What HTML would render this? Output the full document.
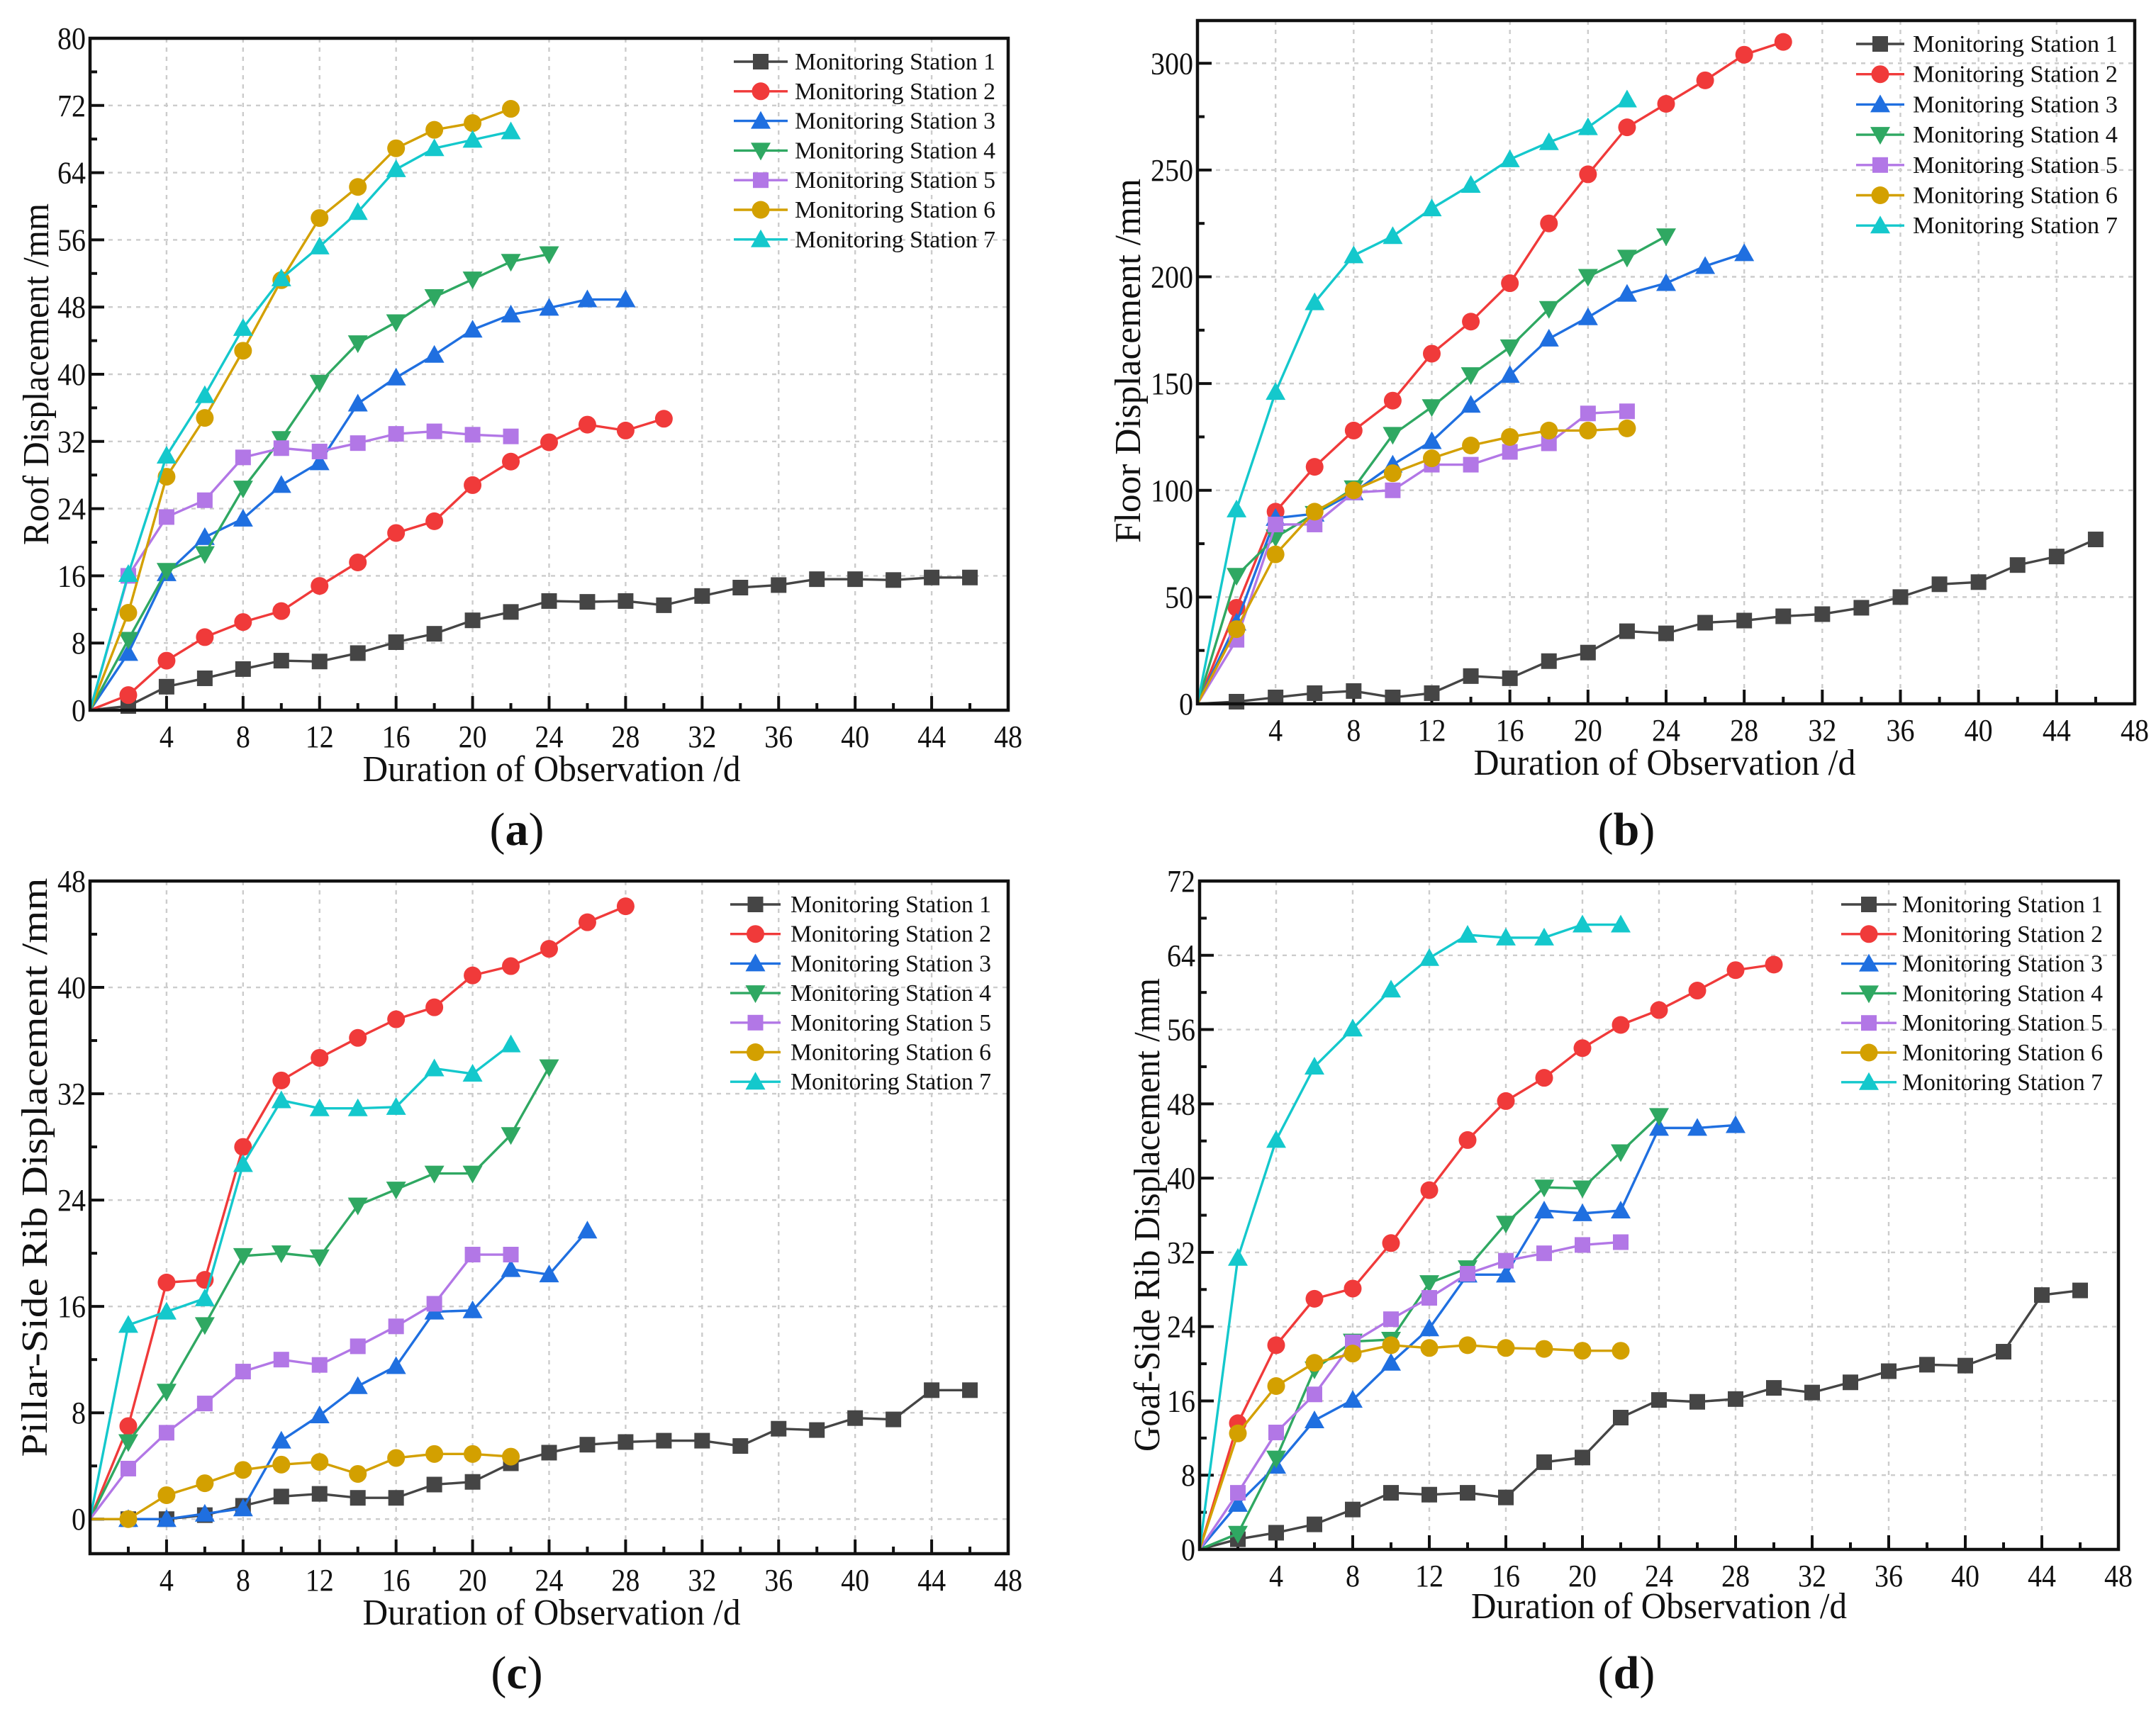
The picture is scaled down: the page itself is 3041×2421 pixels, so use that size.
<!DOCTYPE html>
<html><head><meta charset="utf-8"><style>
html,body{margin:0;padding:0;background:#fff;}
svg{display:block;}
svg text{font-family:"Liberation Serif","DejaVu Serif",serif;fill:#111;}
</style></head><body>
<svg id="root" xmlns="http://www.w3.org/2000/svg" width="3041" height="2421" viewBox="0 0 3041 2421" font-family="Liberation Serif, serif">
<rect width="3041" height="2421" fill="#fff"/>
</svg>
<script>
// ---- shared x data ----
const days = [0,2,4,6,8,10,12,14,16,18,20,22,24,26,28,30,32,34,36,38,40,42,44,46];
const stationNames = ["Monitoring Station 1","Monitoring Station 2","Monitoring Station 3","Monitoring Station 4","Monitoring Station 5","Monitoring Station 6","Monitoring Station 7"];
const xTickLabels = [4,8,12,16,20,24,28,32,36,40,44,48];

// ---- panel (a) roof ----
const aS1 = [0,0.5,2.8,3.8,4.9,5.9,5.8,6.8,8.1,9.1,10.7,11.7,13.0,12.9,13.0,12.5,13.6,14.6,14.9,15.6,15.6,15.5,15.8,15.8];
const aS2 = [0,1.8,5.9,8.7,10.5,11.8,14.8,17.6,21.1,22.5,26.8,29.6,31.9,34.0,33.3,34.7];
const aS3 = [0,6.8,16.3,20.6,22.8,26.8,29.5,36.5,39.6,42.3,45.3,47.1,47.9,48.9,48.9];
const aS4 = [0,8.4,16.6,18.6,26.4,32.3,39.0,43.7,46.2,49.2,51.3,53.4,54.3];
const aS5 = [0,16.0,23.0,25.0,30.1,31.2,30.8,31.8,32.9,33.2,32.8,32.6];
const aS6 = [0,11.6,27.8,34.8,42.8,51.2,58.6,62.3,66.9,69.1,69.9,71.6];
const aS7 = [0,16.2,30.3,37.5,45.5,51.4,55.2,59.3,64.4,66.9,67.9,68.9];
const aYTicks = [0,8,16,24,32,40,48,56,64,72,80];

// ---- panel (b) floor ----
const bS1 = [0,1,3,5,6,3,5,13,12,20,24,34,33,38,39,41,42,45,50,56,57,65,69,77];
const bS2 = [0,45,90,111,128,142,164,179,197,225,248,270,281,292,304,310];
const bS3 = [0,38,87,89,99,112,123,140,154,171,181,192,197,205,211];
const bS4 = [0,60,78,89,101,126,139,154,167,185,200,209,219];
const bS5 = [0,30,84,84,99,100,112,112,118,122,136,137];
const bS6 = [0,35,70,90,100,108,115,121,125,128,128,129];
const bS7 = [0,91,146,188,210,219,232,243,255,263,270,283];
const bYTicks = [0,50,100,150,200,250,300];

// ---- panel (c) pillar-side rib ----
const cS1 = [0,0,0,0.3,1.0,1.7,1.9,1.6,1.6,2.6,2.8,4.2,5.0,5.6,5.8,5.9,5.9,5.5,6.8,6.7,7.6,7.5,9.7,9.7];
const cS2 = [0,7.0,17.8,18.0,28.0,33.0,34.7,36.2,37.6,38.5,40.9,41.6,42.9,44.9,46.1];
const cS3 = [0,0,0,0.4,0.8,5.9,7.8,10.0,11.5,15.6,15.7,18.8,18.4,21.7];
const cS4 = [0,5.8,9.6,14.6,19.8,20.0,19.7,23.6,24.8,26.0,26.0,28.9,34.0];
const cS5 = [0,3.8,6.5,8.7,11.1,12.0,11.6,13.0,14.5,16.2,19.9,19.9];
const cS6 = [0,0,1.8,2.7,3.7,4.1,4.3,3.4,4.6,4.9,4.9,4.7];
const cS7 = [0,14.6,15.6,16.6,26.7,31.5,30.9,30.9,31.0,33.9,33.5,35.7];
const cYTicks = [0,8,16,24,32,40,48];

// ---- panel (d) goaf-side rib ----
const dS1 = [0,1.1,1.8,2.7,4.3,6.1,5.9,6.1,5.6,9.4,9.9,14.2,16.1,15.9,16.2,17.4,16.9,18.0,19.2,19.9,19.8,21.3,27.4,27.9];
const dS2 = [0,13.6,22.0,27.0,28.1,33.0,38.7,44.1,48.3,50.8,54.0,56.5,58.1,60.2,62.4,63.0];
const dS3 = [0,4.9,9.0,13.9,16.1,20.1,23.8,29.6,29.6,36.5,36.2,36.5,45.4,45.4,45.7];
const dS4 = [0,1.7,9.8,19.4,22.4,22.6,28.7,30.3,35.1,39.0,38.9,42.8,46.7];
const dS5 = [0,6.1,12.6,16.7,22.3,24.8,27.1,29.7,31.1,31.9,32.8,33.1];
const dS6 = [0,12.5,17.6,20.1,21.1,22.0,21.7,22.0,21.7,21.6,21.4,21.4];
const dS7 = [0,31.4,44.1,52.0,56.1,60.3,63.7,66.2,65.9,65.9,67.3,67.3];
const dYTicks = [0,8,16,24,32,40,48,56,64,72];

const colors = ["#454545","#f03a3a","#1f6fe0","#2fa862","#b277e6","#d3a000","#14c8cc"];
const shapes = ["square","circle","up","down","square","circle","up"];
const FONT = '"Liberation Serif", "DejaVu Serif", serif';

const NS = "http://www.w3.org/2000/svg";
const root = document.getElementById("root");
function mk(tag, attrs, parent){const e=document.createElementNS(NS,tag);for(const k in attrs)e.setAttribute(k,attrs[k]);if(tag==="text")e.style.fontFamily=FONT;(parent||root).appendChild(e);return e;}

function marker(g, shape, x, y, col){
  let m;
  if(shape==="square") m=mk("rect",{x:x-11,y:y-11,width:22,height:22,fill:col},g);
  else if(shape==="circle") m=mk("circle",{cx:x,cy:y,r:12.5,fill:col},g);
  else if(shape==="up") m=mk("polygon",{points:`${x},${y-14} ${x+14},${y+11} ${x-14},${y+11}`,fill:col},g);
  else m=mk("polygon",{points:`${x},${y+14} ${x+14},${y-11} ${x-14},${y-11}`,fill:col},g);
  return m;
}

function panel(cfg, series){
  const g = mk("g",{});
  
  
  const xs = v => cfg.L + (v/48)*(cfg.R-cfg.L);
  const ys = v => cfg.B - (v-cfg.ymin)/(cfg.ymax-cfg.ymin)*(cfg.B-cfg.T);
  const grid = mk("g",{stroke:"#cccccc","stroke-width":2.4,"stroke-dasharray":"6 7",fill:"none"},g);
  
  
  xTickLabels.forEach(v=>{ if(v<48) mk("line",{x1:xs(v),x2:xs(v),y1:cfg.T,y2:cfg.B},grid);});
  cfg.yTicks.forEach(v=>{ if(v>0 || cfg.ymin<0){ const y=ys(v); if(y>cfg.T+2) mk("line",{x1:cfg.L,x2:cfg.R,y1:y,y2:y},grid);} });
  const tk = mk("g",{stroke:"#111","stroke-width":4},g);
  for(let v=2; v<48; v+=2){ const x=xs(v); const len=(v%4===0)?20:10; mk("line",{x1:x,x2:x,y1:cfg.B,y2:cfg.B-len},tk);}
  const st = cfg.yTicks[1]-cfg.yTicks[0];
  for(let v=0; v<=cfg.ymax+0.001; v+=st/2){ const y=ys(v); if(y<cfg.T+3) continue; const major=Math.abs((v/st)-Math.round(v/st))<1e-6; mk("line",{x1:cfg.L,x2:cfg.L+(major?20:10),y1:y,y2:y},tk);}
  xTickLabels.forEach(v=>{
    const t=mk("text",{x:xs(v),y:cfg.B+52,"font-size":44,"text-anchor":"middle",textLength:String(v).length*20,lengthAdjust:"spacingAndGlyphs"},g);
    t.textContent=v;
    
    
  });
  cfg.yTicks.forEach(v=>{
    const t=mk("text",{x:cfg.L-6,y:ys(v)+15,"font-size":44,"text-anchor":"end",textLength:String(v).length*20,lengthAdjust:"spacingAndGlyphs"},g);
    t.textContent=v;
    
    
  });
  series.forEach((vals,i)=>{
    const sg = mk("g",{},g);
    
    
    const pts = vals.map((v,j)=>xs(days[j])+","+ys(v)).join(" ");
    mk("polyline",{points:pts,fill:"none",stroke:colors[i],"stroke-width":3.4},sg);
    vals.forEach((v,j)=>{ if(j===0) return; const m=marker(sg,shapes[i],xs(days[j]),ys(v),colors[i]);
      
      
    });
  });
  const fr = mk("rect",{x:cfg.L,y:cfg.T,width:cfg.R-cfg.L,height:cfg.B-cfg.T,fill:"none",stroke:"#111","stroke-width":4.5},g);
  
  
  const lg = mk("g",{},g);
  
  
  stationNames.forEach((n,i)=>{
    const y = cfg.legY + i*cfg.legDY;
    const e = mk("g",{},lg);
    
    
    mk("line",{x1:cfg.legX1,x2:cfg.legX2,y1:y,y2:y,stroke:colors[i],"stroke-width":3.4},e);
    marker(e,shapes[i],(cfg.legX1+cfg.legX2)/2,y,colors[i]);
    const t=mk("text",{x:cfg.legTX,y:y+11,"font-size":34,textLength:cfg.legTW,lengthAdjust:"spacingAndGlyphs"},e);
    t.textContent=n;
  });
  const xt=mk("text",{x:cfg.xtX,y:cfg.B+cfg.xtDY,"font-size":52,"text-anchor":"middle",textLength:cfg.xtW,lengthAdjust:"spacingAndGlyphs"},g);
  xt.textContent="Duration of Observation /d";
  
  
  const yt=mk("text",{x:0,y:0,"font-size":52,"text-anchor":"middle",textLength:cfg.ytW,lengthAdjust:"spacingAndGlyphs",transform:`translate(${cfg.ytX},${cfg.ytY}) rotate(-90)`},g);
  yt.textContent=cfg.ytitle;
  
  
  const pl=mk("text",{x:cfg.plX,y:cfg.plY,"font-size":66,"text-anchor":"middle"},g);
  pl.innerHTML='(<tspan font-weight="bold">'+cfg.letter+'</tspan>)';
  
  
}

panel({name:"chart-roof-displacement",L:127,R:1422,T:54,B:1002,ymin:0,ymax:80,yTicks:aYTicks,
  legY:87,legDY:41.8,legX1:1035,legX2:1111,legTX:1121,legTW:283,
  xtX:778,xtDY:100,xtW:533,ytX:68,ytY:528,ytW:482,ytitle:"Roof Displacement /mm",plX:729,plY:1192,letter:"a"},
  [aS1,aS2,aS3,aS4,aS5,aS6,aS7]);
panel({name:"chart-floor-displacement",L:1689,R:3011,T:29,B:993,ymin:0,ymax:320,yTicks:bYTicks,
  legY:62,legDY:42.7,legX1:2618,legX2:2686,legTX:2698,legTW:289,
  xtX:2348,xtDY:100,xtW:539,ytX:1608,ytY:509,ytW:514,ytitle:"Floor  Displacement /mm",plX:2294,plY:1192,letter:"b"},
  [bS1,bS2,bS3,bS4,bS5,bS6,bS7]);
panel({name:"chart-pillar-side-rib-displacement",L:127,R:1422,T:1243,B:2192,ymin:-2.6,ymax:48,yTicks:cYTicks,
  legY:1276,legDY:41.7,legX1:1030,legX2:1101,legTX:1115,legTW:283,
  xtX:778,xtDY:100,xtW:533,ytX:66,ytY:1647,ytW:817,ytitle:"Pillar-Side Rib Displacement /mm",plX:729,plY:2382,letter:"c"},
  [cS1,cS2,cS3,cS4,cS5,cS6,cS7]);
panel({name:"chart-goaf-side-rib-displacement",L:1692,R:2988,T:1243,B:2186,ymin:0,ymax:72,yTicks:dYTicks,
  legY:1276,legDY:41.8,legX1:2597,legX2:2675,legTX:2683,legTW:283,
  xtX:2340,xtDY:97,xtW:530,ytX:1635,ytY:1714,ytW:668,ytitle:"Goaf-Side Rib Displacement /mm",plX:2294,plY:2382,letter:"d"},
  [dS1,dS2,dS3,dS4,dS5,dS6,dS7]);
</script>
</body></html>
